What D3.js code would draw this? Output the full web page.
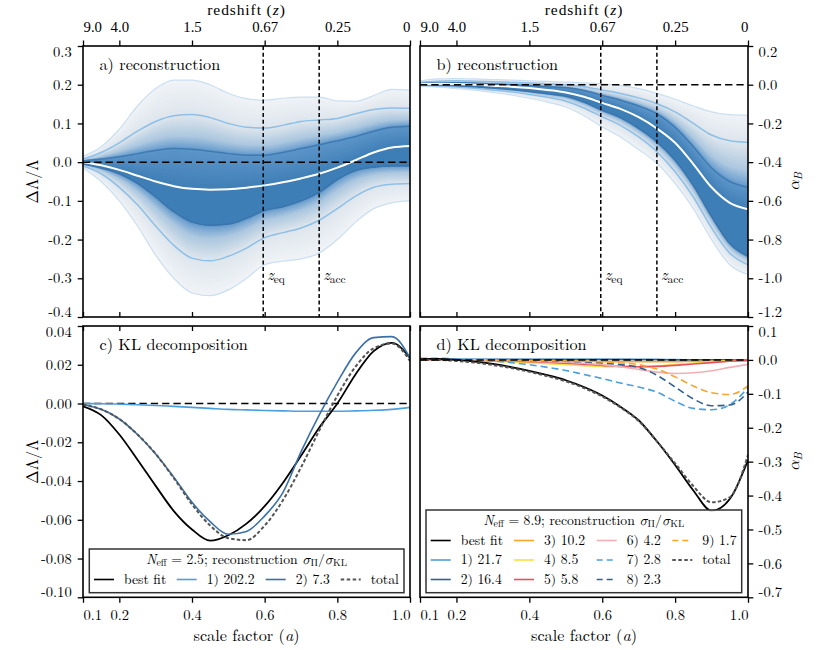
<!DOCTYPE html>
<html><head><meta charset="utf-8">
<script src="https://cdn.jsdelivr.net/npm/d3@7"></script>
<style>
body{margin:0;background:#fff;}
svg{display:block;}
text{font-family:"Latin Modern Roman","Latin Modern Math","DejaVu Serif",serif;fill:#000;}
</style></head><body><div id="chart"></div>
<script>
// ---------------- data ----------------
const scaleFactor = [0.1,0.15,0.2,0.25,0.3,0.35,0.4,0.45,0.5,0.55,0.6,0.65,0.7,0.75,0.8,0.85,0.9,0.95,1.0];

// panel a: reconstruction of dLambda/Lambda (percentile curves)
const lamOuterUp = [0.015,0.04,0.085,0.145,0.19,0.212,0.212,0.2,0.178,0.164,0.16,0.165,0.168,0.168,0.158,0.157,0.172,0.188,0.186];
const lamMidUp   = [0.008,0.025,0.05,0.08,0.105,0.12,0.123,0.115,0.1,0.09,0.088,0.095,0.105,0.109,0.113,0.125,0.136,0.14,0.139];
const lamInnerUp = [0.003,0.008,0.014,0.022,0.03,0.035,0.033,0.028,0.022,0.018,0.018,0.025,0.035,0.045,0.055,0.066,0.08,0.09,0.093];
const lamMedian  = [0,-0.008,-0.02,-0.035,-0.05,-0.062,-0.069,-0.071,-0.07,-0.066,-0.06,-0.052,-0.042,-0.03,-0.014,0.005,0.025,0.038,0.042];
const lamInnerLo = [-0.005,-0.015,-0.03,-0.055,-0.09,-0.128,-0.155,-0.163,-0.16,-0.145,-0.125,-0.115,-0.1,-0.078,-0.045,-0.022,-0.013,-0.01,-0.01];
const lamMidLo   = [-0.01,-0.03,-0.065,-0.11,-0.165,-0.215,-0.248,-0.255,-0.243,-0.222,-0.195,-0.182,-0.17,-0.15,-0.12,-0.088,-0.065,-0.057,-0.055];
const lamOuterLo = [-0.015,-0.05,-0.1,-0.165,-0.24,-0.3,-0.338,-0.345,-0.33,-0.3,-0.265,-0.256,-0.25,-0.235,-0.2,-0.155,-0.12,-0.105,-0.1];

// panel b: reconstruction of alpha_B
const abOuterUp = [0.02,0.03,0.032,0.03,0.027,0.024,0.02,0.017,0.013,0.01,0.005,-0.005,-0.02,-0.045,-0.075,-0.11,-0.14,-0.155,-0.158];
const abMidUp   = [0.012,0.018,0.02,0.018,0.015,0.012,0.009,0.005,0.0,-0.01,-0.028,-0.045,-0.068,-0.098,-0.14,-0.2,-0.26,-0.29,-0.298];
const abInnerUp = [0.006,0.01,0.01,0.008,0.004,0.0,-0.004,-0.01,-0.015,-0.03,-0.055,-0.08,-0.11,-0.15,-0.22,-0.32,-0.43,-0.5,-0.53];
const abMedian  = [0.003,0.005,0.004,0.0,-0.005,-0.01,-0.017,-0.027,-0.04,-0.062,-0.094,-0.125,-0.168,-0.226,-0.3,-0.41,-0.53,-0.61,-0.643];
const abInnerLo = [0.0,-0.002,-0.005,-0.01,-0.017,-0.025,-0.035,-0.047,-0.06,-0.09,-0.132,-0.17,-0.225,-0.295,-0.39,-0.52,-0.68,-0.82,-0.886];
const abMidLo   = [-0.003,-0.007,-0.012,-0.018,-0.027,-0.037,-0.05,-0.065,-0.085,-0.12,-0.166,-0.21,-0.27,-0.346,-0.45,-0.58,-0.74,-0.87,-0.93];
const abOuterLo = [-0.008,-0.013,-0.02,-0.028,-0.04,-0.053,-0.07,-0.09,-0.115,-0.16,-0.218,-0.27,-0.335,-0.406,-0.51,-0.64,-0.8,-0.93,-0.98];

// panel c: KL decomposition of dLambda/Lambda
const klLamBest  = [-0.0014,-0.006,-0.016,-0.029,-0.0425,-0.0555,-0.065,-0.0708,-0.068,-0.062,-0.053,-0.041,-0.027,-0.0125,0.0,0.015,0.027,0.0313,0.0235];
const klLamMode1 = [0,-0.0001,-0.0003,-0.0006,-0.001,-0.0015,-0.002,-0.0025,-0.003,-0.0033,-0.0036,-0.0038,-0.004,-0.004,-0.004,-0.0038,-0.0035,-0.003,-0.002];
const klLamMode2 = [-0.0006,-0.003,-0.008,-0.016,-0.026,-0.038,-0.051,-0.061,-0.0675,-0.066,-0.058,-0.046,-0.025,-0.006,0.011,0.026,0.034,0.0345,0.0235];
const klLamTotal = [-0.0006,-0.003,-0.008,-0.016,-0.026,-0.0385,-0.052,-0.063,-0.0695,-0.0705,-0.063,-0.05,-0.033,-0.014,0.004,0.019,0.0285,0.031,0.022];
const neffC = 2.5;
const ratioC = [202.2, 7.3];

// panel d: KL decomposition of alpha_B
const klAbBest  = [0.003,0.003,0.0,-0.005,-0.012,-0.021,-0.032,-0.045,-0.06,-0.08,-0.105,-0.138,-0.178,-0.24,-0.31,-0.385,-0.445,-0.41,-0.295];
const klAbTotal = [0.001,0.0,-0.003,-0.008,-0.015,-0.024,-0.035,-0.048,-0.063,-0.083,-0.108,-0.14,-0.18,-0.24,-0.305,-0.372,-0.42,-0.405,-0.28];
const klAbM1 = [0.002,0.002,0.002,0.002,0.002,0.002,0.002,0.002,0.002,0.002,0.002,0.002,0.001,0.001,0.001,0.0,0.0,0.0,0.0];
const klAbM2 = [0.001,0.001,0.001,0.001,0.001,0.001,0.001,0.001,0.001,0.001,0.001,0.001,0.001,0.001,0.0,0.0,0.0,0.0,0.0];
const klAbM3 = [0.0,0.0,0.0,-0.001,-0.001,-0.002,-0.003,-0.003,-0.004,-0.004,-0.005,-0.005,-0.005,-0.005,-0.005,-0.004,-0.004,-0.003,-0.003];
const klAbM4 = [0.0,0.0,-0.001,-0.002,-0.004,-0.006,-0.008,-0.011,-0.014,-0.017,-0.019,-0.02,-0.02,-0.018,-0.014,-0.009,-0.005,-0.002,-0.001];
const klAbM5 = [0.0,0.0,0.0,-0.001,-0.002,-0.003,-0.005,-0.007,-0.01,-0.013,-0.016,-0.019,-0.02,-0.019,-0.016,-0.012,-0.008,-0.004,-0.001];
const klAbM6 = [0.0,0.0,0.0,0.0,-0.001,-0.002,-0.003,-0.005,-0.007,-0.01,-0.014,-0.02,-0.028,-0.036,-0.04,-0.038,-0.032,-0.022,-0.013];
const klAbM7 = [0.005,0.005,0.003,0.0,-0.003,-0.008,-0.014,-0.022,-0.031,-0.043,-0.055,-0.068,-0.08,-0.095,-0.122,-0.143,-0.147,-0.132,-0.082];
const klAbM8 = [0.0,0.0,0.0,0.0,0.0,-0.001,-0.002,-0.003,-0.004,-0.006,-0.009,-0.014,-0.022,-0.045,-0.08,-0.115,-0.135,-0.133,-0.095];
const klAbM9 = [0.0,0.0,0.0,0.0,-0.001,-0.001,-0.002,-0.002,-0.003,-0.004,-0.006,-0.009,-0.014,-0.027,-0.05,-0.077,-0.097,-0.102,-0.077];
const neffD = 8.9;
const ratioD = [21.7,16.4,10.2,8.5,5.8,4.2,2.8,2.3,1.7];

// axes ticks
const scaleTicks = [0.1,0.2,0.4,0.6,0.8,1.0];
const redshiftTickLabels = ["9.0","4.0","1.5","0.67","0.25","0"];
const yTicksA = [-0.4,-0.3,-0.2,-0.1,0.0,0.1,0.2,0.3];
const yTicksB = [-1.2,-1.0,-0.8,-0.6,-0.4,-0.2,0.0,0.2];
const yTicksC = [-0.10,-0.08,-0.06,-0.04,-0.02,0.0,0.02,0.04];
const yTicksD = [-0.7,-0.6,-0.5,-0.4,-0.3,-0.2,-0.1,0.0,0.1];
const markerA = [0.596, 0.75];      // z_eq, z_acc in scale factor
const markerLabels = ["eq","acc"];

// ---------------- drawing ----------------
const W = 831, H = 650;
const svg = d3.select("#chart").append("svg").attr("width", W).attr("height", H);
const defs = svg.append("defs");
let clipN = 0;
const TXT = 16.2, TICK = 14.6, LEG = 13.7;
const TOPFONT = "'Liberation Serif','Latin Modern Roman',serif";

const PA = {x0:83, x1:410, y0:46, y1:317};
const PB = {x0:420, x1:748, y0:46, y1:317};
const PC = {x0:83, x1:410, y0:326, y1:597.3};
const PD = {x0:420, x1:748, y0:326, y1:597.3};

const colL1 = "#4c9fdd", colL2 = "#2f5f93", colOr = "#f6a62a", colYe = "#f7df45", colRe = "#e8505e", colPi = "#f1b0b3", colTot = "#555555";

function makePanel(P, yDom) {
  const x = d3.scaleLinear().domain([0.1, 1.0]).range([P.x0, P.x1]);
  const y = d3.scaleLinear().domain(yDom).range([P.y1, P.y0]);
  const id = "clip" + (clipN++);
  defs.append("clipPath").attr("id", id).append("rect")
    .attr("x", P.x0).attr("y", P.y0).attr("width", P.x1 - P.x0).attr("height", P.y1 - P.y0);
  const g = svg.append("g");
  const plot = g.append("g").attr("clip-path", `url(#${id})`);
  return {P, x, y, g, plot};
}

function lineOf(pn, vals) {
  return d3.line().x((d, i) => pn.x(scaleFactor[i])).y(d => pn.y(d)).curve(d3.curveMonotoneX)(vals);
}

function drawLine(pn, vals, color, width, dash) {
  const p = pn.plot.append("path").attr("d", lineOf(pn, vals)).attr("fill", "none")
    .attr("stroke", color).attr("stroke-width", width);
  if (dash) p.attr("stroke-dasharray", dash);
  return p;
}

// fan chart: nested bands from the outer percentile curves to the inner ones,
// then a core gradient from the upper inner curve towards the median.
function fan(pn, up, lo, med) {
  const N = 40, M = 14;
  const col = d3.scaleLinear().domain([0, 0.5, 0.8, 0.93, 1])
    .range(["#f0f3f6", "#dde5ec", "#acc7df", "#7aa8d2", "#5b94c7"]).interpolate(d3.interpolateRgb);
  const colCore = d3.interpolateRgb("#5b94c7", "#3e7eb6");
  const at = (arrs, t) => {
    const i = t <= 0.5 ? 0 : 1;
    const f = t <= 0.5 ? t / 0.5 : (t - 0.5) / 0.5;
    return scaleFactor.map((a, k) => arrs[i][k] * (1 - f) + arrs[i + 1][k] * f);
  };
  const band = (u, l, c) => {
    const area = d3.area().x((d, k) => pn.x(scaleFactor[k]))
      .y0((d, k) => pn.y(l[k])).y1((d, k) => pn.y(u[k])).curve(d3.curveMonotoneX);
    pn.plot.append("path").attr("d", area(scaleFactor)).attr("fill", c);
  };
  for (let s = 0; s <= N; s++) {
    const t = s / N;
    band(at(up, t), at(lo, t), col(t));
  }
  for (let s = 1; s <= M; s++) {
    const f = s / M;
    const u = scaleFactor.map((a, k) => up[2][k] * (1 - f) + med[k] * f);
    band(u, lo[2], colCore(f));
  }
  drawLine(pn, up[0], "#cadff2", 1.2);
  drawLine(pn, lo[0], "#cadff2", 1.2);
  drawLine(pn, up[1], "#8dbfe7", 1.5);
  drawLine(pn, lo[1], "#8dbfe7", 1.5);
  drawLine(pn, up[2], "#3f7bb3", 1.5);
  drawLine(pn, lo[2], "#3a75ad", 1.5);
}

function zeroLine(pn) {
  pn.plot.append("line").attr("x1", pn.P.x0).attr("x2", pn.P.x1)
    .attr("y1", pn.y(0)).attr("y2", pn.y(0))
    .attr("stroke", "#000").attr("stroke-width", 1.5).attr("stroke-dasharray", "7.3,4");
}

function markers(pn) {
  markerA.forEach((a, i) => {
    pn.plot.append("line").attr("x1", pn.x(a)).attr("x2", pn.x(a))
      .attr("y1", pn.P.y0).attr("y2", pn.P.y1)
      .attr("stroke", "#000").attr("stroke-width", 1.5).attr("stroke-dasharray", "4,2.7");
    const t = pn.g.append("text").attr("x", pn.x(a) + 4).attr("y", 280).style("font-size", "16px");
    t.append("tspan").attr("font-style", "italic").text("z");
    t.append("tspan").attr("dy", 3).style("font-size", "11.5px").text(markerLabels[i]);
  });
}

function styleAxis(g) {
  g.select(".domain").remove();
  g.attr("font-family", null).attr("font-size", null);
  g.selectAll(".tick line").attr("stroke-width", 1.3);
  g.selectAll(".tick text").attr("fill", "#000").style("font-size", TICK + "px");
}

function fmtY(dec) { return v => (v < -1e-9 ? "-" : "") + Math.abs(v).toFixed(dec); }

function axes(pn, yTicks, dec, ySide, topLabels, bottomLabels) {
  const P = pn.P;
  const ay = (ySide === "left" ? d3.axisLeft(pn.y) : d3.axisRight(pn.y))
    .tickValues(yTicks).tickFormat(fmtY(dec)).tickSize(5.3).tickPadding(ySide === "left" ? 6 : 5.3).tickSizeOuter(0);
  const gy = pn.g.append("g").attr("transform", `translate(${ySide === "left" ? P.x0 : P.x1},0)`).call(ay);
  styleAxis(gy);
  gy.selectAll(".tick text").each(function(d) {
    if (Math.abs(d - yTicks[0]) < 1e-9) d3.select(this).attr("y", -5.5);
    if (Math.abs(d - yTicks[yTicks.length - 1]) < 1e-9) d3.select(this).attr("y", 5.5);
  });
  if (topLabels) {
    const at = d3.axisTop(pn.x).tickValues(scaleTicks).tickFormat((d, i) => redshiftTickLabels[i])
      .tickSize(5.5).tickPadding(9).tickSizeOuter(0);
    const gt = pn.g.append("g").attr("transform", `translate(0,${P.y0})`).call(at);
    styleAxis(gt);
    gt.selectAll(".tick text").style("font-family", TOPFONT).style("font-size", "14.8px")
      .attr("text-anchor", (d, i) => i === 0 ? "start" : (i === scaleTicks.length - 1 ? "end" : "middle"));
  } else {
    const at = d3.axisBottom(pn.x).tickValues(scaleTicks).tickFormat("").tickSize(5).tickSizeOuter(0);
    const gt = pn.g.append("g").attr("transform", `translate(0,${P.y0})`).call(at);
    styleAxis(gt);
  }
  if (bottomLabels) {
    const ab = d3.axisBottom(pn.x).tickValues(scaleTicks).tickFormat(d => d.toFixed(1))
      .tickSize(5.5).tickPadding(7.2).tickSizeOuter(0);
    const gb = pn.g.append("g").attr("transform", `translate(0,${P.y1})`).call(ab);
    styleAxis(gb);
    gb.selectAll(".tick text").attr("text-anchor", (d, i) => i === 0 ? "start" : (i === scaleTicks.length - 1 ? "end" : "middle"));
  } else {
    const ab = d3.axisTop(pn.x).tickValues(scaleTicks).tickFormat("").tickSize(5).tickSizeOuter(0);
    const gb = pn.g.append("g").attr("transform", `translate(0,${P.y1})`).call(ab);
    styleAxis(gb);
  }
  pn.g.append("rect").attr("x", P.x0).attr("y", P.y0).attr("width", P.x1 - P.x0).attr("height", P.y1 - P.y0)
    .attr("fill", "none").attr("stroke", "#000").attr("stroke-width", 1.6);
}

function panelLabel(pn, txt) {
  pn.g.append("text").attr("x", pn.P.x0 + 16.5).attr("y", pn.P.y0 + 23.5)
    .style("font-size", TXT + "px").text(txt);
}

function redshiftTitle(P) {
  const t = svg.append("text").attr("x", (P.x0 + P.x1) / 2).attr("y", 15).attr("text-anchor", "middle")
    .style("font-family", TOPFONT).style("font-size", "15.5px").style("letter-spacing", "0.9px");
  t.append("tspan").text("redshift (");
  t.append("tspan").attr("font-style", "italic").text("z");
  t.append("tspan").text(")");
}
function scaleTitle(P) {
  const t = svg.append("text").attr("x", (P.x0 + P.x1) / 2).attr("y", 641).attr("text-anchor", "middle")
    .style("font-size", TXT + "px");
  t.append("tspan").text("scale factor (");
  t.append("tspan").attr("font-style", "italic").text("a");
  t.append("tspan").text(")");
}
function lamLabel(P) {
  const cy = (P.y0 + P.y1) / 2;
  svg.append("text").attr("transform", `translate(38,${cy}) rotate(-90)`).attr("text-anchor", "middle")
    .style("font-size", TXT + "px").text("ΔΛ/Λ");
}
function alphaLabel(P) {
  const cy = (P.y0 + P.y1) / 2;
  const t = svg.append("text").attr("transform", `translate(799,${cy}) rotate(-90)`).attr("text-anchor", "middle").style("font-size", TXT + "px");
  t.append("tspan").attr("font-style", "italic").text("α");
  t.append("tspan").attr("dy", 3).attr("font-style", "italic").style("font-size", "11.5px").text("B");
}

function legendTitle(g, x, y, neff) {
  const t = g.append("text").attr("x", x).attr("y", y).attr("text-anchor", "middle")
    .style("font-size", LEG + "px");
  t.append("tspan").attr("font-style", "italic").text("N");
  t.append("tspan").attr("dy", 2.5).style("font-size", "10px").text("eff");
  t.append("tspan").attr("dy", -2.5).text(" = " + neff.toFixed(1) + "; reconstruction ");
  t.append("tspan").attr("font-style", "italic").text("σ");
  t.append("tspan").attr("dy", 2.5).style("font-size", "10px").text("Π");
  t.append("tspan").attr("dy", -2.5).text("/");
  t.append("tspan").attr("font-style", "italic").text("σ");
  t.append("tspan").attr("dy", 2.5).style("font-size", "10px").text("KL");
}
function legendEntry(g, x, y, item) {
  const l = g.append("line").attr("x1", x).attr("x2", x + 20).attr("y1", y - 4).attr("y2", y - 4)
    .attr("stroke", item.color).attr("stroke-width", item.w || 1.6);
  if (item.dash) l.attr("stroke-dasharray", item.dash);
  g.append("text").attr("x", x + 30).attr("y", y).style("font-size", LEG + "px").text(item.label);
}

// ===== Panel a =====
const pa = makePanel(PA, [-0.4, 0.3]);
fan(pa, [lamOuterUp, lamMidUp, lamInnerUp], [lamOuterLo, lamMidLo, lamInnerLo], lamMedian);
drawLine(pa, lamMedian, "#ffffff", 2);
zeroLine(pa);
markers(pa);
axes(pa, yTicksA, 1, "left", true, false);
panelLabel(pa, "a) reconstruction");

// ===== Panel b =====
const pb = makePanel(PB, [-1.2, 0.2]);
fan(pb, [abOuterUp, abMidUp, abInnerUp], [abOuterLo, abMidLo, abInnerLo], abMedian);
drawLine(pb, abMedian, "#ffffff", 2);
zeroLine(pb);
markers(pb);
axes(pb, yTicksB, 1, "right", true, false);
panelLabel(pb, "b) reconstruction");

// ===== Panel c =====
const pc = makePanel(PC, [-0.10, 0.04]);
zeroLine(pc);
drawLine(pc, klLamMode1, colL1, 1.6);
drawLine(pc, klLamBest, "#000", 1.8);
drawLine(pc, klLamMode2, "#3c71a8", 1.6);
drawLine(pc, klLamTotal, colTot, 2, "3.5,2.2");
axes(pc, yTicksC, 2, "left", false, true);
panelLabel(pc, "c) KL decomposition");

// ===== Panel d =====
const pd = makePanel(PD, [-0.7, 0.1]);
const modesD = [
  {v: klAbM1, color: colL1, dash: null},
  {v: klAbM2, color: colL2, dash: null},
  {v: klAbM3, color: colOr, dash: null},
  {v: klAbM4, color: colYe, dash: null},
  {v: klAbM5, color: colRe, dash: null},
  {v: klAbM6, color: colPi, dash: null},
  {v: klAbM7, color: colL1, dash: "7,4"},
  {v: klAbM8, color: colL2, dash: "7,4"},
  {v: klAbM9, color: colOr, dash: "7,4"}
];
modesD.forEach(m => drawLine(pd, m.v, m.color, 1.6, m.dash));
drawLine(pd, klAbBest, "#000", 1.8);
drawLine(pd, klAbTotal, colTot, 2, "3.5,2.2");
zeroLine(pd);
axes(pd, yTicksD, 1, "right", false, true);
panelLabel(pd, "d) KL decomposition");

// ===== Legends =====
{
  const g = svg.append("g");
  g.append("rect").attr("x", 89.3).attr("y", 549).attr("width", 314.7).attr("height", 43.7)
    .attr("fill", "#fff").attr("fill-opacity", 0.8).attr("stroke", "#333").attr("stroke-width", 1.5);
  legendTitle(g, 246.6, 563.5, neffC);
  const items = [
    {label: "best fit", color: "#000"},
    {label: "1) " + ratioC[0].toFixed(1), color: colL1},
    {label: "2) " + ratioC[1].toFixed(1), color: "#3c71a8"},
    {label: "total", color: colTot, dash: "3.5,2.5", w: 2}
  ];
  const xs = [94, 176.7, 265.7, 340.7];
  items.forEach((it, i) => legendEntry(g, xs[i], 583.5, it));
}
{
  const g = svg.append("g");
  g.append("rect").attr("x", 426).attr("y", 510).attr("width", 315.7).attr("height", 82.7)
    .attr("fill", "#fff").attr("fill-opacity", 0.8).attr("stroke", "#333").attr("stroke-width", 1.5);
  legendTitle(g, 583.8, 524.5, neffD);
  const items = [{label: "best fit", color: "#000"}];
  modesD.forEach((m, i) => items.push({label: (i + 1) + ") " + ratioD[i].toFixed(1), color: m.color, dash: m.dash ? "6,4" : null}));
  items.push({label: "total", color: colTot, dash: "3.5,2.5", w: 2});
  const colX = [430.7, 514, 596.7, 672.3];
  const rowY = [544.5, 564, 583.5];
  items.forEach((it, i) => legendEntry(g, colX[Math.floor(i / 3)], rowY[i % 3], it));
}

// ===== titles =====
redshiftTitle(PA); redshiftTitle(PB);
scaleTitle(PC); scaleTitle(PD);
lamLabel(PA); lamLabel(PC);
alphaLabel(PB); alphaLabel(PD);
</script></body></html>
